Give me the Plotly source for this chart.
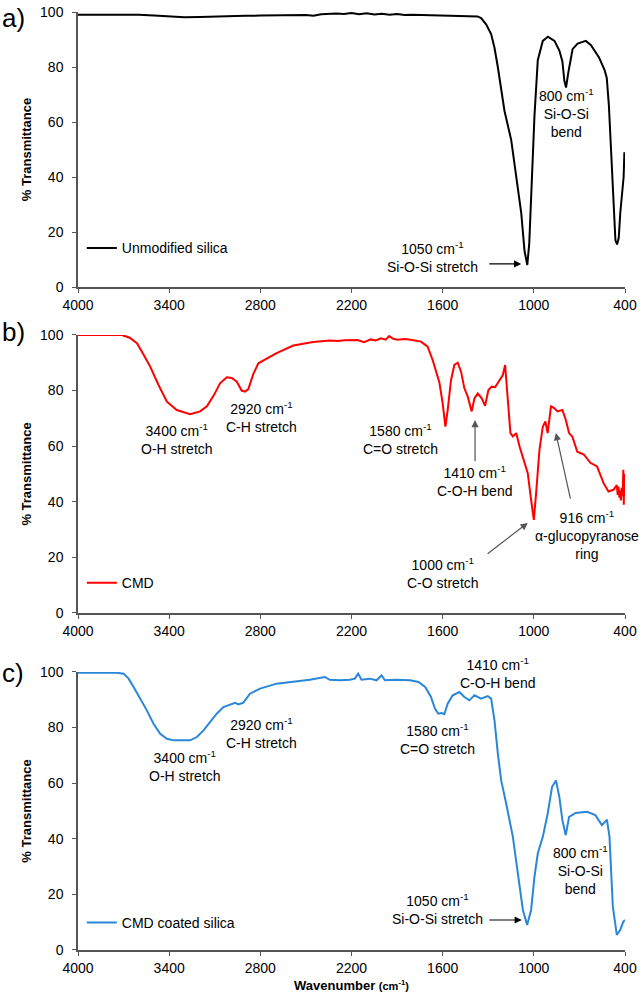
import plotly.graph_objects as go

# ---------------- data ----------------
silica_wn = [4000, 3800, 3600, 3500, 3400, 3300, 3200, 3100, 3000, 2900, 2800, 2700, 2600,
             2500, 2450, 2400, 2300, 2250, 2200, 2150, 2100, 2050, 2000, 1950, 1900, 1850,
             1800, 1700, 1600, 1500, 1420, 1370, 1347, 1314, 1281, 1259, 1237, 1193, 1149,
             1116, 1083, 1061, 1043, 1030, 1017, 996, 974, 941, 907, 864, 832, 812, 799, 788,
             773, 745, 712, 658, 625, 571, 535, 520, 506, 485, 463, 452, 441, 431, 420, 409,
             404, 400]
silica_t = [99.0, 99.0, 99.0, 98.7, 98.3, 98.1, 98.2, 98.4, 98.5, 98.6, 98.7, 98.8, 99.0,
            98.9, 98.6, 99.2, 99.5, 99.3, 99.6, 99.2, 99.5, 99.1, 99.4, 99.0, 99.3, 98.9,
            99.0, 98.9, 98.8, 98.8, 98.7, 98.4, 97.8, 95.5, 92.0, 87.0, 80.0, 64.0, 53.5,
            41.0, 27.0, 13.0, 8.0, 16.0, 32.0, 62.0, 82.5, 89.5, 91.0, 89.5, 86.0, 82.0, 75.0,
            72.5, 78.0, 86.5, 88.5, 89.5, 88.0, 83.5, 79.0, 76.0, 66.0, 40.0, 17.0, 15.5,
            18.0, 27.0, 33.0, 40.0, 49.0, 47.0]

cmd_wn = [4000, 3800, 3711, 3660, 3612, 3569, 3525, 3470, 3415, 3350, 3262, 3196, 3152,
          3109, 3065, 3021, 2988, 2955, 2923, 2901, 2879, 2846, 2813, 2758, 2693, 2583,
          2452, 2342, 2290, 2248, 2200, 2160, 2117, 2073, 2040, 2007, 1975, 1952, 1925,
          1897, 1850, 1809, 1743, 1699, 1666, 1637, 1622, 1600, 1582, 1567, 1545, 1523,
          1501, 1479, 1457, 1435, 1409, 1391, 1369, 1343, 1321, 1299, 1277, 1255, 1226,
          1204, 1189, 1171, 1154, 1138, 1116, 1094, 1061, 1040, 1018, 1000, 985, 963, 941,
          924, 909, 887, 866, 844, 812, 790, 768, 747, 714, 671, 628, 584, 541, 509, 476,
          454, 448, 443, 437, 432, 427, 422, 416, 411, 408, 406, 403, 400]
cmd_t = [100.0, 100.0, 100.0, 99.0, 97.0, 93.0, 88.6, 82.0, 76.0, 73.0, 71.5, 72.5, 74.3,
         78.0, 82.6, 84.8, 84.5, 83.2, 80.0, 79.6, 80.5, 86.0, 89.8, 91.5, 93.5, 96.2,
         97.5, 98.0, 97.8, 98.1, 98.3, 98.2, 97.4, 98.4, 98.0, 98.8, 98.3, 99.6, 98.6,
         98.3, 98.5, 98.3, 97.6, 95.8, 91.0, 85.6, 83.0, 75.4, 67.0, 73.0, 83.8, 89.2,
         90.0, 86.8, 80.8, 77.8, 72.5, 77.2, 79.0, 77.2, 74.5, 80.2, 81.4, 81.2, 83.8,
         85.6, 89.2, 77.0, 64.7, 63.5, 64.7, 59.9, 53.9, 50.3, 40.7, 33.5, 43.0, 58.7, 67.0,
         68.9, 64.7, 74.3, 73.7, 72.5, 73.0, 69.5, 64.7, 63.5, 58.0, 57.0, 54.0, 52.7, 46.7,
         43.7, 44.3, 46.0, 42.5, 45.5, 41.5, 44.0, 40.5, 45.0, 42.0, 51.5, 38.9, 50.0, 42.0,
         45.0]

coated_wn = [4000, 3850, 3744, 3700, 3667, 3634, 3590, 3547, 3503, 3459, 3415, 3371, 3262,
             3218, 3174, 3130, 3087, 3043, 2999, 2966, 2944, 2912, 2868, 2802, 2693, 2583,
             2474, 2375, 2343, 2277, 2211, 2178, 2156, 2134, 2079, 2035, 2002, 1980, 1903,
             1815, 1759, 1715, 1677, 1651, 1629, 1607, 1589, 1567, 1534, 1490, 1457, 1424,
             1391, 1347, 1303, 1281, 1259, 1237, 1215, 1182, 1138, 1105, 1072, 1044, 1018,
             996, 974, 941, 909, 880, 854, 832, 812, 790, 768, 725, 649, 595, 552, 519, 502,
             480, 454, 432, 411, 400]
coated_t = [99.7, 99.8, 99.7, 99.4, 97.6, 94.6, 90.4, 86.2, 81.4, 77.8, 76.0, 75.4, 75.4,
            76.6, 79.0, 82.0, 85.0, 87.4, 88.4, 88.9, 88.3, 89.0, 92.2, 94.0, 95.8, 96.4,
            97.2, 98.2, 97.2, 97.0, 97.2, 97.6, 99.4, 97.2, 97.6, 97.0, 98.8, 97.0, 97.2,
            97.0, 96.4, 94.6, 91.0, 86.8, 85.0, 85.2, 84.8, 88.6, 91.6, 92.8, 91.0, 89.8,
            91.6, 90.4, 91.3, 90.4, 82.6, 70.7, 61.0, 52.7, 40.7, 27.5, 14.4, 9.0, 14.4,
            26.3, 34.7, 40.7, 49.0, 58.7, 61.0, 55.0, 46.7, 41.3, 47.9, 49.3, 49.7, 48.5,
            44.9, 46.9, 40.7, 15.6, 5.4, 7.2, 10.2, 10.8]

series_names = ["Unmodified silica", "CMD", "CMD coated silica"]
series_colors = ["#000000", "#ff0000", "#2a86d9"]
x_ticks = [4000, 3400, 2800, 2200, 1600, 1000, 400]
y_ticks = [0, 20, 40, 60, 80, 100]
panel_labels = ["a)", "b)", "c)"]

FONT = "Liberation Sans, Arial, sans-serif"
AX = "#555555"
FS = 14

fig = go.Figure()
data = [(silica_wn, silica_t), (cmd_wn, cmd_t), (coated_wn, coated_t)]
legend_names = ["legend", "legend2", "legend3"]
for i, (wn, t) in enumerate(data):
    suffix = "" if i == 0 else str(i + 1)
    fig.add_trace(go.Scatter(x=wn, y=t, mode="lines", name=series_names[i],
                             line=dict(color=series_colors[i], width=2),
                             xaxis="x" + suffix, yaxis="y" + suffix,
                             legend=legend_names[i]))

domains = [[0.7068, 1.0], [0.3593, 0.6557], [0.0, 0.2964]]
legend_y = [0.748, 0.391, 0.0288]
label_y = [0.9936, 0.659, 0.2953]

layout = dict(
    width=644, height=1000,
    margin=dict(l=78, r=19, t=12, b=50, autoexpand=False),
    paper_bgcolor="white", plot_bgcolor="white",
    font=dict(family=FONT, size=FS, color="black"),
    showlegend=True,
)
for i in range(3):
    suffix = "" if i == 0 else str(i + 1)
    xa = dict(domain=[0, 1], range=[4000, 400], tickvals=x_ticks,
              showline=True, linecolor=AX, linewidth=1.5, mirror=False,
              ticks="outside", ticklen=4, tickcolor=AX, showgrid=False, zeroline=False,
              anchor="y" + suffix, tickfont=dict(size=FS, family=FONT), automargin=False)
    ya = dict(domain=domains[i], range=[0, 100], tickvals=y_ticks,
              showline=True, linecolor=AX, linewidth=1.5,
              ticks="outside", ticklen=4, tickcolor=AX, showgrid=False, zeroline=False,
              anchor="x" + suffix, tickfont=dict(size=FS, family=FONT),
              ticklabelstandoff=6, automargin=False,
              title=dict(text="<b>% Transmittance</b>", font=dict(size=13, family=FONT),
                         standoff=6))
    if i == 2:
        xa["title"] = dict(text="<b>Wavenumber</b> <span style='font-size:11px'><b>(cm<sup>-1</sup>)</b></span>",
                           font=dict(size=13, family=FONT), standoff=6)
    layout["xaxis" + suffix] = xa
    layout["yaxis" + suffix] = ya
    layout[legend_names[i]] = dict(x=0.007, y=legend_y[i], xanchor="left", yanchor="middle",
                                   bgcolor="rgba(0,0,0,0)", itemwidth=30,
                                   font=dict(size=FS, family=FONT))
fig.update_layout(**layout)

ann = []
for i, lab in enumerate(panel_labels):
    ann.append(dict(text=lab, xref="paper", yref="paper", x=-0.1426, y=label_y[i],
                    xanchor="left", yanchor="middle", showarrow=False,
                    font=dict(size=26, family=FONT)))

def txt(s, x, y, ax_suffix):
    return dict(text=s, x=x, y=y, xref="x" + ax_suffix, yref="y" + ax_suffix,
                showarrow=False, xanchor="center", yanchor="middle",
                font=dict(size=FS, family=FONT))

def arrow(x0, y0, x1, y1, ax_suffix, color):
    return dict(text="", x=x1, y=y1, ax=x0, ay=y0, xref="x" + ax_suffix, yref="y" + ax_suffix,
                axref="x" + ax_suffix, ayref="y" + ax_suffix, showarrow=True,
                arrowhead=2, arrowsize=1.2, arrowwidth=1.2, arrowcolor=color)

cm = "cm<sup>-1</sup>"
# panel a
ann.append(txt(f"1050 {cm}<br>Si-O-Si stretch", 1668, 11, ""))
ann.append(arrow(1303, 8.4, 1083, 8.4, "", "black"))
ann.append(txt(f"800 {cm}<br>Si-O-Si<br>bend", 788, 63.3, ""))
# panel b
ann.append(txt(f"3400 {cm}<br>O-H stretch", 3350, 62.6, "2"))
ann.append(txt(f"2920 {cm}<br>C-H stretch", 2791, 70.5, "2"))
ann.append(txt(f"1580 {cm}<br>C=O stretch", 1875, 62.6, "2"))
ann.append(txt(f"1410 {cm}<br>C-O-H bend", 1391, 47.5, "2"))
ann.append(arrow(1387, 54, 1387, 69.4, "2", "#555555"))
ann.append(txt(f"916 {cm}<br>α-glucopyranose<br>ring", 649, 27.9, "2"))
ann.append(arrow(757, 40.6, 855, 64.7, "2", "#555555"))
ann.append(txt(f"1000 {cm}<br>C-O stretch", 1600, 14.2, "2"))
ann.append(arrow(1314, 20.9, 1040, 32.4, "2", "#555555"))
# panel c
ann.append(txt(f"3400 {cm}<br>O-H stretch", 3297, 66.2, "3"))
ann.append(txt(f"2920 {cm}<br>C-H stretch", 2791, 78.2, "3"))
ann.append(txt(f"1580 {cm}<br>C=O stretch", 1633, 75.9, "3"))
ann.append(txt(f"1410 {cm}<br>C-O-H bend", 1237, 99.8, "3"))
ann.append(txt(f"800 {cm}<br>Si-O-Si<br>bend", 692, 28.8, "3"))
ann.append(txt(f"1050 {cm}<br>Si-O-Si stretch", 1633, 14.9, "3"))
ann.append(arrow(1303, 10.8, 1079, 10.8, "3", "black"))
fig.update_layout(annotations=ann)

fig.write_html("out.html", config={"displayModeBar": False},
               post_script="document.body.style.margin='0';document.body.style.overflow='hidden';")
